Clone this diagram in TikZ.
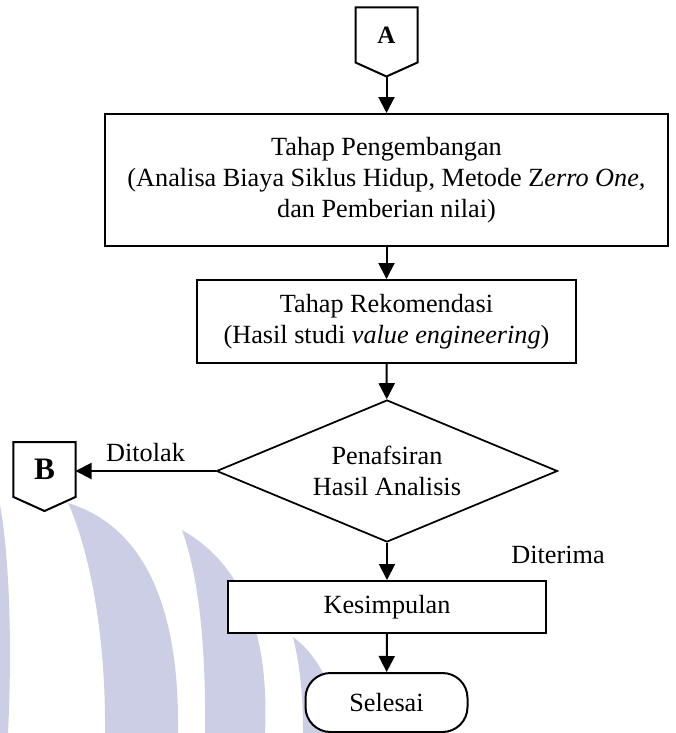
\documentclass[tikz,border=0pt]{standalone}
\usepackage{fontspec}
\setmainfont{Liberation Serif}
\usetikzlibrary{shapes.geometric,arrows.meta,positioning,calc}
\definecolor{wmblue}{RGB}{203,206,228}
\tikzset{
  proc/.style={draw, line width=0.8pt, fill=white, align=center, inner sep=2pt},
  decide/.style={draw, diamond, aspect=2.4, line width=0.7pt, fill=white, align=center,
    inner sep=0pt, minimum width=136.4pt, minimum height=56.8pt},
  term/.style={draw, rounded corners=10pt, line width=0.8pt, fill=white,
    minimum width=64.8pt, minimum height=23.6pt},
  offpage/.style={minimum width=24.4pt, minimum height=21.6pt, inner sep=0pt},
  arr/.style={line width=0.8pt, -{Triangle[length=6.4pt,width=6.4pt]}}
}
\begin{document}
\begin{tikzpicture}[x=0.4pt, y=-0.4pt, font=\fontsize{10.5}{12.4}\selectfont]
\useasboundingbox (0,0) rectangle (675,733);
% watermark
\fill[wmblue] (0,505) .. controls (10,560) and (12,650) .. (8,733) -- (0,733) -- cycle;
\fill[wmblue] (68,503) .. controls (85,540) and (106,620) .. (105,733) -- (178,733)
  .. controls (180,600) and (140,525) .. (68,503) -- cycle;
\fill[wmblue] (182,530) .. controls (198,575) and (206,640) .. (205,733) -- (265,733)
  .. controls (270,620) and (235,560) .. (182,530) -- cycle;
\fill[wmblue] (293,637) .. controls (301,670) and (303,700) .. (303,733) -- (340,733)
  .. controls (336,690) and (318,655) .. (293,637) -- cycle;

% off-page connectors
\node[offpage, font=\fontsize{10}{12}\selectfont\bfseries] (A) at (386.5,35) {A};
\coordinate (Atip) at ($(A.south)+(0,14)$);
\draw[line width=0.8pt] (A.north west) -- (A.north east) -- (A.south east) -- (Atip) -- (A.south west) -- cycle;
\node[offpage, font=\fontsize{12.5}{14}\selectfont\bfseries] (B) at (44.5,469.5) {B};
\coordinate (Btip) at ($(B.south)+(0,14)$);
\draw[line width=0.8pt] (B.north west) -- (B.north east) -- (B.south east) -- (Btip) -- (B.south west) -- cycle;

\node[proc, minimum width=225.2pt, minimum height=52.8pt] (kembang) at (386.5,180)
  {Tahap Pengembangan\\(Analisa Biaya Siklus Hidup, Metode Z\textit{erro One,}\\dan Pemberian nilai)};
\node[proc, minimum width=151.6pt, minimum height=33.2pt] (rekom) at (386.5,321.5)
  {Tahap Rekomendasi\\(Hasil studi \textit{value engineering})};
\node[decide] (tafsir) at (387,471) {Penafsiran\\Hasil Analisis};
\node[proc, minimum width=127.2pt, minimum height=20.8pt] (simpul) at (387,607) {Kesimpulan};
\node[term] (selesai) at (386.5,702.5) {Selesai};

\draw[arr] (Atip) -- (kembang);
\draw[arr] (kembang) -- (rekom);
\draw[arr] (rekom) -- (tafsir);
\draw[arr] (tafsir.west) -- node[above] {Ditolak} (tafsir.west -| B.east);
\draw[arr] (tafsir) -- node[right=46pt, yshift=2.6pt] {Diterima} (simpul);
\draw[arr] (simpul) -- (selesai);
\end{tikzpicture}
\end{document}
